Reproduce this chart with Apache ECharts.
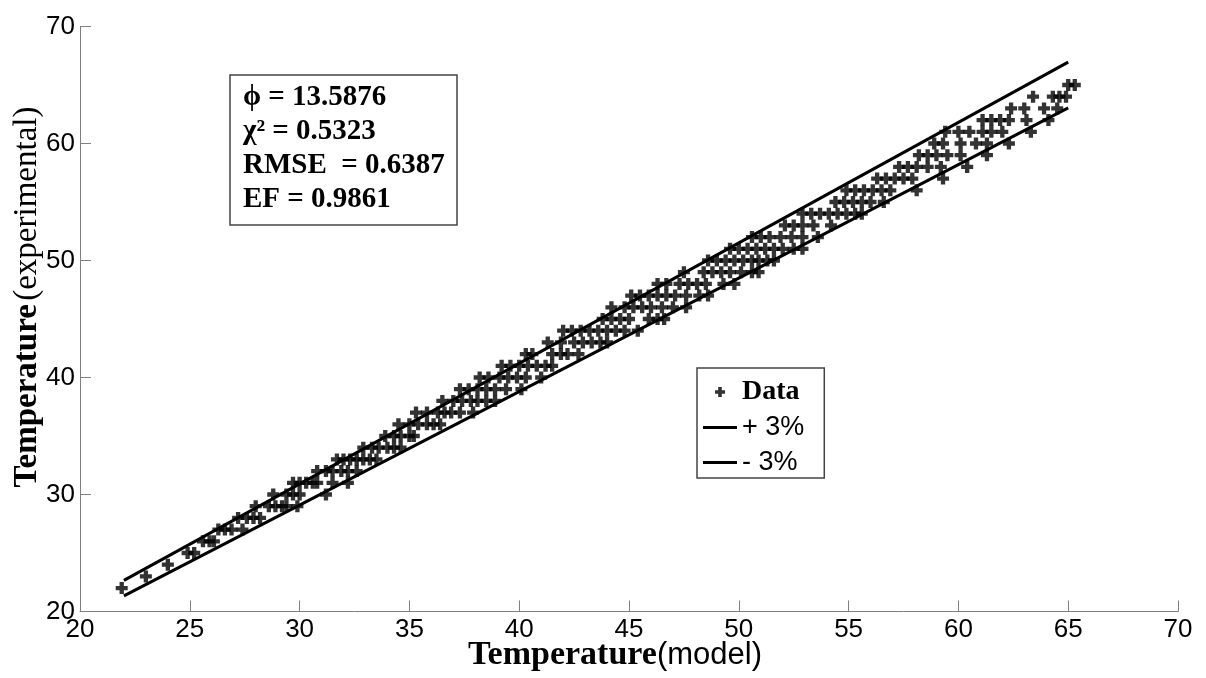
<!DOCTYPE html>
<html>
<head>
<meta charset="utf-8">
<script src="https://cdn.jsdelivr.net/npm/echarts@6/dist/echarts.min.js"></script>
<style>
  html, body { margin: 0; padding: 0; background: #fff; }
  #chart { width: 1206px; height: 678px; }
</style>
</head>
<body>
<div id="chart"></div>
<script>
// experimental temperature rows (integers) and the model values seen on each row
const expRows = [22, 23, 24, 25, 26, 27, 28, 29, 30, 31, 32, 33, 34, 35, 36, 37, 38, 39, 40, 41, 42, 43,
  44, 45, 46, 47, 48, 49, 50, 51, 52, 53, 54, 55, 56, 57, 58, 59, 60, 61, 62, 63, 64, 65]
const modelRows = [
  [21.9],
  [23.0],
  [24.0],
  [24.9, 25.2],
  [25.6, 25.9, 26.1],
  [26.3, 26.6, 26.9, 27.4],
  [27.2, 27.6, 27.9, 28.2],
  [28.0, 28.6, 28.9, 29.2, 29.4, 29.9],
  [28.8, 29.4, 29.7, 30.0, 31.2],
  [29.7, 30.0, 30.3, 30.6, 30.8, 31.5, 32.2],
  [30.8, 31.2, 31.5, 31.9, 32.2, 32.6],
  [31.7, 32.0, 32.3, 32.6, 32.9, 33.2, 33.5],
  [32.9, 33.3, 33.6, 34.0, 34.3, 34.6],
  [33.9, 34.3, 34.6, 35.0, 35.2],
  [34.5, 35.0, 35.4, 35.8, 36.1, 36.4],
  [35.3, 35.8, 36.3, 36.6, 36.9, 37.3, 37.9],
  [36.5, 37.0, 37.4, 37.8, 38.1, 38.5, 38.9],
  [37.3, 37.7, 38.1, 38.5, 38.9, 39.4, 40.1],
  [38.2, 38.6, 39.1, 39.5, 39.9, 40.3, 41.0],
  [39.2, 39.6, 40.0, 40.4, 40.8, 41.2, 41.5],
  [40.3, 40.6, 41.5, 41.9, 42.2, 42.7],
  [41.3, 41.9, 42.5, 42.9, 43.3, 43.7, 44.0],
  [42.0, 42.4, 42.8, 43.2, 43.6, 44.0, 44.4, 44.8, 45.4],
  [43.8, 44.2, 44.6, 45.0, 45.9, 46.3, 46.6],
  [44.2, 44.8, 45.2, 45.6, 46.0, 46.5, 47.0, 47.6],
  [45.1, 45.5, 45.9, 46.3, 46.7, 47.1, 47.6, 48.2, 48.6],
  [46.3, 46.7, 47.3, 47.7, 48.1, 48.5, 49.3, 49.8],
  [47.5, 48.4, 48.8, 49.2, 49.6, 50.1, 50.6, 50.9],
  [48.6, 49.0, 49.4, 49.8, 50.2, 50.6, 50.9, 51.3, 51.6],
  [49.6, 50.0, 50.4, 50.8, 51.2, 51.6, 52.0, 52.5, 52.9],
  [50.6, 51.0, 51.4, 51.9, 52.4, 52.9, 53.6],
  [52.1, 52.5, 52.9, 53.4, 54.2],
  [52.9, 53.3, 53.7, 54.1, 54.5, 54.9, 55.3, 55.6],
  [54.4, 54.8, 55.2, 55.6, 56.0, 56.6],
  [54.9, 55.3, 55.7, 56.1, 56.5, 56.9, 58.1],
  [56.3, 56.7, 57.1, 57.5, 57.9, 59.3],
  [57.3, 57.7, 58.1, 58.6, 59.2, 60.4],
  [58.2, 58.6, 59.0, 59.5, 60.1, 61.3],
  [58.9, 59.3, 60.1, 60.8, 61.3, 62.3],
  [59.4, 60.0, 60.5, 61.1, 61.5, 62.0, 63.3],
  [61.1, 61.5, 61.9, 62.3, 63.1, 64.1],
  [62.4, 63.0, 63.9, 64.5],
  [63.4, 64.3, 64.6, 64.9],
  [65.0, 65.3]
]

// +/- 3% bounds, end points
const boundX = [22, 65]
const upperY = [22.66, 66.95]
const lowerY = [21.34, 63.05]

const stats = ['ϕ = 13.5876', 'χ² = 0.5323', 'RMSE  = 0.6387', 'EF = 0.9861']

const PLUS = 'path://M3.2,0h3.6v3.2h3.2v3.6h-3.2v3.2h-3.6v-3.2h-3.2v-3.6h3.2z'
const DASH = 'path://M0,0h34v3h-34z'
const AXIS_GREY = '#7f7f7f'

const points = []
expRows.forEach((y, i) => {
  modelRows[i].forEach(x => points.push([x, y]))
})

const chart = echarts.init(document.getElementById('chart'))

const axisCommon = {
  type: 'value',
  min: 20,
  max: 70,
  axisLine: { show: true, lineStyle: { color: AXIS_GREY, width: 1 } },
  axisTick: { show: true, inside: true, length: 11, lineStyle: { color: AXIS_GREY } },
  splitLine: { show: false },
  axisLabel: { color: '#000', fontFamily: 'Liberation Sans', fontSize: 26, margin: 5 },
  nameLocation: 'middle',
  nameMoveOverlap: false
}

chart.setOption({
  animation: false,
  title: {
    text: stats.join('\n'),
    left: 230,
    top: 75,
    padding: [6, 12, 8, 13],
    borderColor: '#444',
    borderWidth: 1.5,
    textStyle: { fontFamily: 'Liberation Serif', fontWeight: 'bold', fontSize: 29, lineHeight: 34, color: '#000' }
  },
  legend: {
    orient: 'vertical',
    left: 697,
    top: 368,
    padding: [10, 20, 2, 6],
    itemGap: 8,
    itemWidth: 34,
    itemHeight: 10,
    borderColor: '#444',
    borderWidth: 1.5,
    data: [
      { name: 'Data', icon: PLUS },
      { name: '+ 3%', icon: DASH },
      { name: '- 3%', icon: DASH }
    ],
    formatter: name => name === 'Data' ? '{b|Data}' : '{n|' + name + '}',
    textStyle: {
      color: '#000',
      rich: {
        b: { fontFamily: 'Liberation Serif', fontWeight: 'bold', fontSize: 28, lineHeight: 32 },
        n: { fontFamily: 'Liberation Sans', fontSize: 27, lineHeight: 32 }
      }
    }
  },
  grid: { left: 80, right: 28, top: 26.5, bottom: 66.5, outerBoundsMode: 'none' },
  xAxis: Object.assign({}, axisCommon, {
    interval: 5,
    name: '{b|Temperature}{n|(model)}',
    nameGap: 27,
    nameTextStyle: {
      padding: [0, 28, 0, 0],
      rich: {
        b: { fontFamily: 'Liberation Serif', fontWeight: 'bold', fontSize: 34, color: '#000' },
        n: { fontFamily: 'Liberation Sans', fontSize: 31, color: '#000' }
      }
    }
  }),
  yAxis: Object.assign({}, axisCommon, {
    interval: 10,
    name: '{b|Temperature} {n|(experimental)}',
    nameGap: 36,
    nameRotate: 90,
    nameTextStyle: {
      padding: [0, 0, 0, 44],
      rich: {
        b: { fontFamily: 'Liberation Serif', fontWeight: 'bold', fontSize: 33, color: '#000' },
        n: { fontFamily: 'Liberation Serif', fontSize: 33, color: '#000' }
      }
    }
  }),
  series: [
    {
      name: 'Data',
      type: 'scatter',
      symbol: PLUS,
      symbolSize: 12,
      itemStyle: { color: '#000' },
      data: points,
      z: 3
    },
    {
      name: '+ 3%',
      type: 'line',
      showSymbol: false,
      lineStyle: { color: '#000', width: 3 },
      itemStyle: { color: '#000' },
      data: boundX.map((x, i) => [x, upperY[i]]),
      z: 2
    },
    {
      name: '- 3%',
      type: 'line',
      showSymbol: false,
      lineStyle: { color: '#000', width: 3 },
      itemStyle: { color: '#000' },
      data: boundX.map((x, i) => [x, lowerY[i]]),
      z: 2
    }
  ]
})
</script>
</body>
</html>
